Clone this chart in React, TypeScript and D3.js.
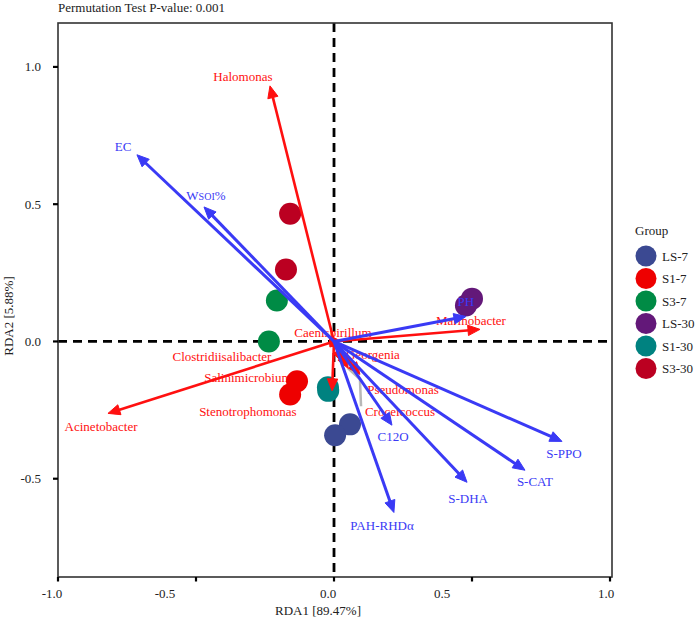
import React from "react";
import * as d3 from "d3";

// ---------- data ----------
const groups = ["LS-7", "S1-7", "S3-7", "LS-30", "S1-30", "S3-30"];
const groupColors = ["#3B4992", "#EE0000", "#008B45", "#631879", "#008280", "#BB0021"];

const sampleGroup = ["S3-30", "S3-30", "S3-7", "S3-7", "S1-7", "S1-7", "S1-30", "S1-30", "LS-7", "LS-7", "LS-30", "LS-30"];
const sampleRDA1 = [-0.159, -0.174, -0.207, -0.236, -0.134, -0.159, -0.022, -0.021, 0.058, 0.004, 0.478, 0.5];
const sampleRDA2 = [0.465, 0.262, 0.149, 0.0, -0.145, -0.193, -0.167, -0.18, -0.302, -0.342, 0.131, 0.156];

const speciesNames = ["Halomonas", "Acinetobacter", "Marinobacter", "Caenispirillum", "Georgenia", "Pseudomonas", "Croceicoccus", "Stenotrophomonas", "Salinimicrobium", "Clostridiisalibacter"];
const speciesRDA1 = [-0.232, -0.819, 0.529, 0.012, 0.03, 0.094, 0.051, -0.007, -0.015, -0.02];
const speciesRDA2 = [0.931, -0.262, 0.044, 0.008, -0.076, -0.12, -0.098, -0.18, -0.02, -0.006];
const speciesLabelX = [-0.33, -0.844, 0.496, -0.004, 0.141, 0.25, 0.239, -0.312, -0.312, -0.406];
const speciesLabelY = [0.964, -0.309, 0.076, 0.033, -0.047, -0.175, -0.255, -0.255, -0.131, -0.055];

const envNames = ["EC", "WSOI%", "PH", "S-PPO", "S-CAT", "S-DHA", "PAH-RHDα", "C12O"];
const envRDA1 = [-0.714, -0.471, 0.478, 0.826, 0.692, 0.482, 0.217, 0.21];
const envRDA2 = [0.68, 0.49, 0.091, -0.364, -0.469, -0.513, -0.623, -0.305];
const envLabelX = [-0.764, -0.464, 0.478, 0.833, 0.728, 0.486, 0.174, 0.214];
const envLabelY = [0.709, 0.531, 0.145, -0.407, -0.509, -0.571, -0.669, -0.345];

// leader segment (ggrepel) for Croceicoccus, in RDA coordinates
const leaderX = [0.051, 0.094, 0.098];
const leaderY = [-0.098, -0.138, -0.236];

const xTicks = [-1.0, -0.5, 0.0, 0.5, 1.0];
const yTicks = [-0.5, 0.0, 0.5, 1.0];
const xTickLabelShift = [-6, -31, -6, -30, -4];

const title = "Permutation Test P-value: 0.001";
const xTitle = "RDA1 [89.47%]";
const yTitle = "RDA2 [5.88%]";

// ---------- layout ----------
const W = 700, H = 619;
const L = 58, R = 612, T = 23, B = 577;
const FONT = "'Liberation Serif', 'Times New Roman', serif";
const RED = "#FF1010";
const BLUE = "#3A3AF5";

const x = d3.scaleLinear().domain([-1, 1.0072]).range([L, R]);
const y = d3.scaleLinear().domain([-0.858, 1.16]).range([B, T]);

function Arrow({ x1, y1, x2, y2, color, width }: any) {
  const dx = x2 - x1, dy = y2 - y1;
  const len = Math.hypot(dx, dy) || 1;
  const ux = dx / len, uy = dy / len;
  const hl = Math.min(12, len * 0.9), hw = 5.2;
  const bx = x2 - ux * hl, by = y2 - uy * hl;
  const pts = [
    [x2, y2],
    [bx - uy * hw, by + ux * hw],
    [bx + uy * hw, by - ux * hw],
  ];
  return (
    <g>
      <line x1={x1} y1={y1} x2={x2 - ux * hl * 0.6} y2={y2 - uy * hl * 0.6} stroke={color} strokeWidth={width} />
      <polygon points={pts.map((p) => p.join(",")).join(" ")} fill={color} stroke={color} strokeWidth={1} strokeLinejoin="miter" />
    </g>
  );
}

export default function App() {
  const color = d3.scaleOrdinal<string, string>().domain(groups).range(groupColors);
  const x0 = x(0), y0 = y(0);
  const leader = d3.line<number>().x((d, i) => x(leaderX[i])).y((d, i) => y(leaderY[i]))(leaderX);

  return (
    <svg width={W} height={H} style={{ position: "absolute", left: 0, top: 0, background: "#fff" }} fontFamily={FONT}>
      <rect x={0} y={0} width={W} height={H} fill="#fff" />
      <text x={L} y={12} fontSize={13} fill="#222">{title}</text>

      {/* zero lines */}
      <line x1={L} x2={R} y1={y0} y2={y0} stroke="#000" strokeWidth={2.8} strokeDasharray="9,6" />
      <line x1={x0} x2={x0} y1={T} y2={B} stroke="#000" strokeWidth={2.8} strokeDasharray="9,6" />

      {/* leader segment */}
      <path d={leader || ""} fill="none" stroke="#B8B8B8" strokeWidth={2.5} />

      {/* species labels */}
      {speciesNames.map((n, i) => (
        <text key={n} x={x(speciesLabelX[i])} y={y(speciesLabelY[i])} fontSize={13} fill={RED} textAnchor="middle" dominantBaseline="central">{n}</text>
      ))}

      {/* samples */}
      {sampleGroup.map((g, i) => (
        <circle key={i} cx={x(sampleRDA1[i])} cy={y(sampleRDA2[i])} r={11} fill={color(g)} />
      ))}

      {/* species arrows */}
      {speciesNames.map((n, i) => (
        <Arrow key={n} x1={x0} y1={y0} x2={x(speciesRDA1[i])} y2={y(speciesRDA2[i])} color={RED} width={2.6} />
      ))}

      {/* env arrows */}
      {envNames.map((n, i) => (
        <Arrow key={n} x1={x0} y1={y0} x2={x(envRDA1[i])} y2={y(envRDA2[i])} color={BLUE} width={3} />
      ))}

      {/* env labels */}
      {envNames.map((n, i) => (
        <text key={n} x={x(envLabelX[i])} y={y(envLabelY[i])} fontSize={13} fill={BLUE} textAnchor="middle" dominantBaseline="central">
          {n === "WSOI%" ? (
            <>
              W<tspan fontSize={10}>SOI</tspan>%
            </>
          ) : n}
        </text>
      ))}

      {/* frame */}
      <rect x={L} y={T} width={R - L} height={B - T} fill="none" stroke="#333" strokeWidth={1.6} />

      {/* x axis */}
      {xTicks.map((t, i) => (
        <g key={t}>
          <line x1={x(t)} x2={x(t)} y1={B} y2={B + 4.5} stroke="#000" strokeWidth={2.2} />
          <text x={x(t) + xTickLabelShift[i]} y={B + 16} fontSize={13} fill="#222" textAnchor="middle" dominantBaseline="central">{t.toFixed(1)}</text>
        </g>
      ))}
      <text x={318} y={610} fontSize={13} fill="#222" textAnchor="middle" dominantBaseline="central">{xTitle}</text>

      {/* y axis */}
      {yTicks.map((t) => (
        <g key={t}>
          <line x1={L - 5} x2={L} y1={y(t)} y2={y(t)} stroke="#000" strokeWidth={2.2} />
          <text x={L - 17} y={y(t)} fontSize={13} fill="#222" textAnchor="end" dominantBaseline="central">{t.toFixed(1)}</text>
        </g>
      ))}
      <text transform={`translate(8,316) rotate(-90)`} fontSize={13} fill="#222" textAnchor="middle" dominantBaseline="central">{yTitle}</text>

      {/* legend */}
      <text x={635} y={230} fontSize={13} fill="#222" dominantBaseline="central">Group</text>
      {groups.map((g, i) => (
        <g key={g}>
          <circle cx={646} cy={256 + i * 22.5} r={10.5} fill={color(g)} />
          <text x={662} y={256 + i * 22.5} fontSize={13} fill="#222" dominantBaseline="central">{g}</text>
        </g>
      ))}
    </svg>
  );
}
